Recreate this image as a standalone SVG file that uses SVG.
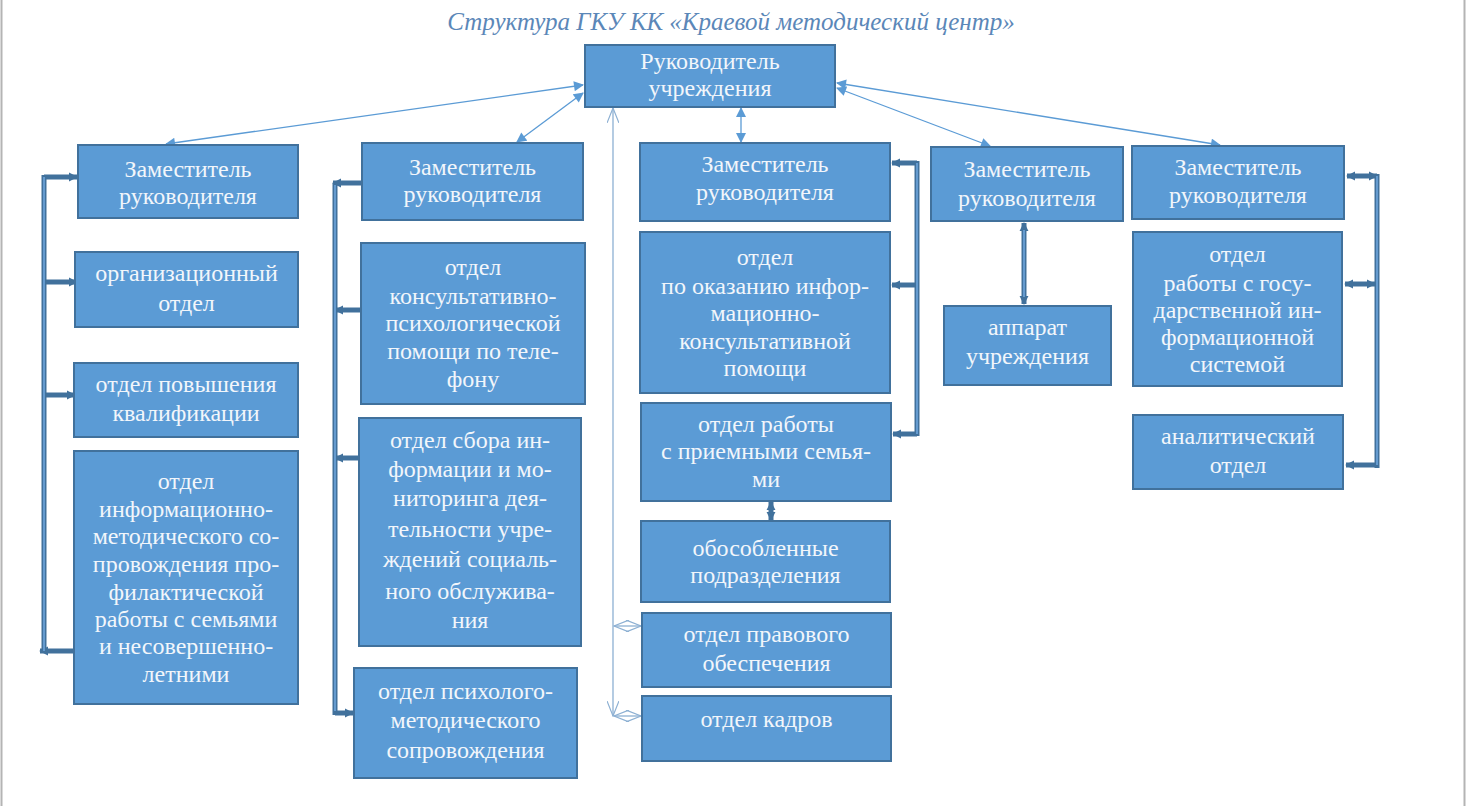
<svg xmlns="http://www.w3.org/2000/svg" width="1466" height="806" viewBox="0 0 1466 806">
<style>
.box{fill:#5b9bd5;stroke:#41719c;stroke-width:2}
.t{font-family:"Liberation Serif","Times New Roman",serif;font-size:24px;fill:#f2f6fb;text-anchor:middle}
.title{font-family:"Liberation Serif","Times New Roman",serif;font-style:italic;font-size:25px;fill:#5b87b8;text-anchor:middle}
.thin{stroke:#5b9bd5;stroke-width:1.3;fill:none}
.open{stroke:#8db0d3;stroke-width:1.3;fill:none}
.thickO{stroke:#41719c;stroke-width:5;fill:none}
.thickI{stroke:#6ea6dc;stroke-width:1.6;fill:none}
</style>
<defs>
<marker id="tri" viewBox="0 0 10 10" refX="9" refY="5" markerWidth="11" markerHeight="10" markerUnits="userSpaceOnUse" orient="auto-start-reverse">
<path d="M0,0 L10,5 L0,10 z" fill="#5b9bd5"/>
</marker>
<marker id="opn" viewBox="0 0 16 12" refX="15" refY="6" markerWidth="16" markerHeight="12" markerUnits="userSpaceOnUse" orient="auto-start-reverse">
<path d="M0,0 L15,6 L0,12" fill="none" stroke="#8db0d3" stroke-width="1.2"/>
</marker>
<marker id="thk" viewBox="0 0 10 10" refX="9" refY="5" markerWidth="9" markerHeight="10" markerUnits="userSpaceOnUse" orient="auto-start-reverse">
<path d="M0,0 L10,5 L0,10 z" fill="#41719c"/>
</marker>
</defs>
<rect width="1466" height="806" fill="#ffffff"/>
<line x1="1.5" y1="0" x2="1.5" y2="806" stroke="#b4b4b4" stroke-width="2"/>
<line x1="1464.5" y1="0" x2="1464.5" y2="806" stroke="#b4b4b4" stroke-width="2"/>
<text class="title" x="731" y="30">Структура ГКУ КК «Краевой методический центр»</text>

<g id="connectors">
<line class="thin" x1="583" y1="85" x2="166" y2="144" marker-start="url(#tri)" marker-end="url(#tri)"/>
<line class="thin" x1="583" y1="93" x2="517" y2="142" marker-start="url(#tri)" marker-end="url(#tri)"/>
<line class="thin" x1="741" y1="108" x2="741" y2="142" marker-start="url(#tri)" marker-end="url(#tri)"/>
<line class="thin" x1="837" y1="88" x2="990" y2="146" marker-start="url(#tri)" marker-end="url(#tri)"/>
<line class="thin" x1="837" y1="83" x2="1220" y2="145" marker-start="url(#tri)" marker-end="url(#tri)"/>
<line class="open" x1="613" y1="108" x2="613" y2="716" marker-start="url(#opn)" marker-end="url(#opn)"/>
<line class="open" x1="614" y1="626" x2="641" y2="626" marker-start="url(#opn)" marker-end="url(#opn)"/>
<line class="open" x1="614" y1="716" x2="641" y2="716" marker-start="url(#opn)" marker-end="url(#opn)"/>

<g id="bracket1">
<line class="thickO" x1="44" y1="175" x2="44" y2="653"/>
<line class="thickO" x1="44" y1="177" x2="77" y2="177" marker-end="url(#thk)"/>
<line class="thickO" x1="44" y1="282" x2="77" y2="282" marker-end="url(#thk)"/>
<line class="thickO" x1="44" y1="395" x2="75" y2="395" marker-end="url(#thk)"/>
<line class="thickO" x1="73" y1="651" x2="40" y2="651" marker-end="url(#thk)"/>
<line class="thickI" x1="44" y1="177" x2="44" y2="651"/>
</g>
<g id="bracket2">
<line class="thickO" x1="335" y1="183" x2="335" y2="715"/>
<line class="thickO" x1="361" y1="183" x2="333" y2="183" marker-end="url(#thk)"/>
<line class="thickO" x1="360" y1="310" x2="335" y2="310" marker-end="url(#thk)"/>
<line class="thickO" x1="358" y1="458" x2="335" y2="458" marker-end="url(#thk)"/>
<line class="thickO" x1="335" y1="713" x2="353" y2="713" marker-end="url(#thk)"/>
<line class="thickI" x1="335" y1="185" x2="335" y2="711"/>
</g>
<g id="bracket3">
<line class="thickO" x1="917" y1="161" x2="917" y2="436"/>
<line class="thickO" x1="917" y1="163" x2="892" y2="163" marker-end="url(#thk)"/>
<line class="thickO" x1="917" y1="285" x2="892" y2="285" marker-end="url(#thk)"/>
<line class="thickO" x1="917" y1="434" x2="893" y2="434" marker-end="url(#thk)"/>
<line class="thickI" x1="917" y1="163" x2="917" y2="434"/>
</g>
<g id="bracket5">
<line class="thickO" x1="1377" y1="174" x2="1377" y2="468"/>
<line class="thickO" x1="1347" y1="176" x2="1377" y2="176" marker-start="url(#thk)" marker-end="url(#thk)"/>
<line class="thickO" x1="1345" y1="284" x2="1375" y2="284" marker-start="url(#thk)" marker-end="url(#thk)"/>
<line class="thickO" x1="1346" y1="465" x2="1377" y2="465" marker-start="url(#thk)"/>
<line class="thickI" x1="1377" y1="176" x2="1377" y2="465"/>
</g>
<line class="thickO" x1="1024" y1="223" x2="1024" y2="304" marker-start="url(#thk)" marker-end="url(#thk)"/>
<line class="thickI" x1="1024" y1="230" x2="1024" y2="297"/>
<line class="thickO" x1="771" y1="502" x2="771" y2="520" marker-start="url(#thk)" marker-end="url(#thk)"/>
</g>

<g id="n_head"><rect class="box" x="585" y="45" width="250" height="62"/>
<text class="t" x="710" y="69">Руководитель</text><text class="t" x="710" y="96">учреждения</text></g>

<g id="n_z1"><rect class="box" x="78" y="145" width="220" height="73"/>
<text class="t" x="188" y="177">Заместитель</text><text class="t" x="188" y="204">руководителя</text></g>
<g id="n_org"><rect class="box" x="75" y="252" width="223" height="75"/>
<text class="t" x="186.5" y="281">организационный</text><text class="t" x="186.5" y="311">отдел</text></g>
<g id="n_pov"><rect class="box" x="74" y="363" width="224" height="74"/>
<text class="t" x="186" y="392">отдел повышения</text><text class="t" x="186" y="421">квалификации</text></g>
<g id="n_inf"><rect class="box" x="74" y="451" width="224" height="253"/>
<text class="t" x="186" y="489">отдел</text>
<text class="t" x="186" y="517">информационно-</text>
<text class="t" x="186" y="544">методического со-</text>
<text class="t" x="186" y="572">провождения про-</text>
<text class="t" x="186" y="600">филактической</text>
<text class="t" x="186" y="627">работы с семьями</text>
<text class="t" x="186" y="654">и несовершенно-</text>
<text class="t" x="186" y="682">летними</text></g>

<g id="n_z2"><rect class="box" x="362" y="143" width="221" height="77"/>
<text class="t" x="472.5" y="175">Заместитель</text><text class="t" x="472.5" y="202">руководителя</text></g>
<g id="n_kons"><rect class="box" x="361" y="243" width="224" height="161"/>
<text class="t" x="473" y="275">отдел</text>
<text class="t" x="473" y="304">консультативно-</text>
<text class="t" x="473" y="331">психологической</text>
<text class="t" x="473" y="359">помощи по теле-</text>
<text class="t" x="473" y="387">фону</text></g>
<g id="n_sbor"><rect class="box" x="359" y="418" width="222" height="228"/>
<text class="t" x="470" y="448">отдел сбора ин-</text>
<text class="t" x="470" y="477">формации и мо-</text>
<text class="t" x="470" y="506">ниторинга дея-</text>
<text class="t" x="470" y="537">тельности учре-</text>
<text class="t" x="470" y="567">ждений социаль-</text>
<text class="t" x="470" y="599">ного обслужива-</text>
<text class="t" x="470" y="628">ния</text></g>
<g id="n_psy"><rect class="box" x="354" y="668" width="223" height="110"/>
<text class="t" x="465.5" y="699">отдел психолого-</text>
<text class="t" x="465.5" y="728">методического</text>
<text class="t" x="465.5" y="758">сопровождения</text></g>

<g id="n_z3"><rect class="box" x="640" y="143" width="250" height="78"/>
<text class="t" x="765" y="172">Заместитель</text><text class="t" x="765" y="200">руководителя</text></g>
<g id="n_opo"><rect class="box" x="640" y="232" width="250" height="161"/>
<text class="t" x="765" y="265">отдел</text>
<text class="t" x="765" y="294">по оказанию инфор-</text>
<text class="t" x="765" y="321">мационно-</text>
<text class="t" x="765" y="349">консультативной</text>
<text class="t" x="765" y="376">помощи</text></g>
<g id="n_prem"><rect class="box" x="641" y="403" width="250" height="98"/>
<text class="t" x="766" y="432">отдел работы</text>
<text class="t" x="766" y="459">с приемными семья-</text>
<text class="t" x="766" y="487">ми</text></g>
<g id="n_obos"><rect class="box" x="641" y="521" width="249" height="81"/>
<text class="t" x="765.5" y="556">обособленные</text>
<text class="t" x="765.5" y="583">подразделения</text></g>
<g id="n_prav"><rect class="box" x="642" y="613" width="249" height="74"/>
<text class="t" x="766.5" y="642">отдел правового</text>
<text class="t" x="766.5" y="671">обеспечения</text></g>
<g id="n_kadr"><rect class="box" x="642" y="696" width="249" height="65"/>
<text class="t" x="766.5" y="727">отдел кадров</text></g>

<g id="n_z4"><rect class="box" x="931" y="147" width="192" height="74"/>
<text class="t" x="1027" y="177">Заместитель</text><text class="t" x="1027" y="206">руководителя</text></g>
<g id="n_app"><rect class="box" x="944" y="306" width="167" height="79"/>
<text class="t" x="1027.5" y="335">аппарат</text><text class="t" x="1027.5" y="364">учреждения</text></g>

<g id="n_z5"><rect class="box" x="1132" y="146" width="212" height="73"/>
<text class="t" x="1238" y="175">Заместитель</text><text class="t" x="1238" y="203">руководителя</text></g>
<g id="n_gis"><rect class="box" x="1133" y="232" width="209" height="154"/>
<text class="t" x="1237.5" y="262">отдел</text>
<text class="t" x="1237.5" y="291">работы с госу-</text>
<text class="t" x="1237.5" y="318">дарственной ин-</text>
<text class="t" x="1237.5" y="345">формационной</text>
<text class="t" x="1237.5" y="372">системой</text></g>
<g id="n_anal"><rect class="box" x="1133" y="415" width="210" height="74"/>
<text class="t" x="1238" y="444">аналитический</text><text class="t" x="1238" y="473">отдел</text></g>
</svg>
